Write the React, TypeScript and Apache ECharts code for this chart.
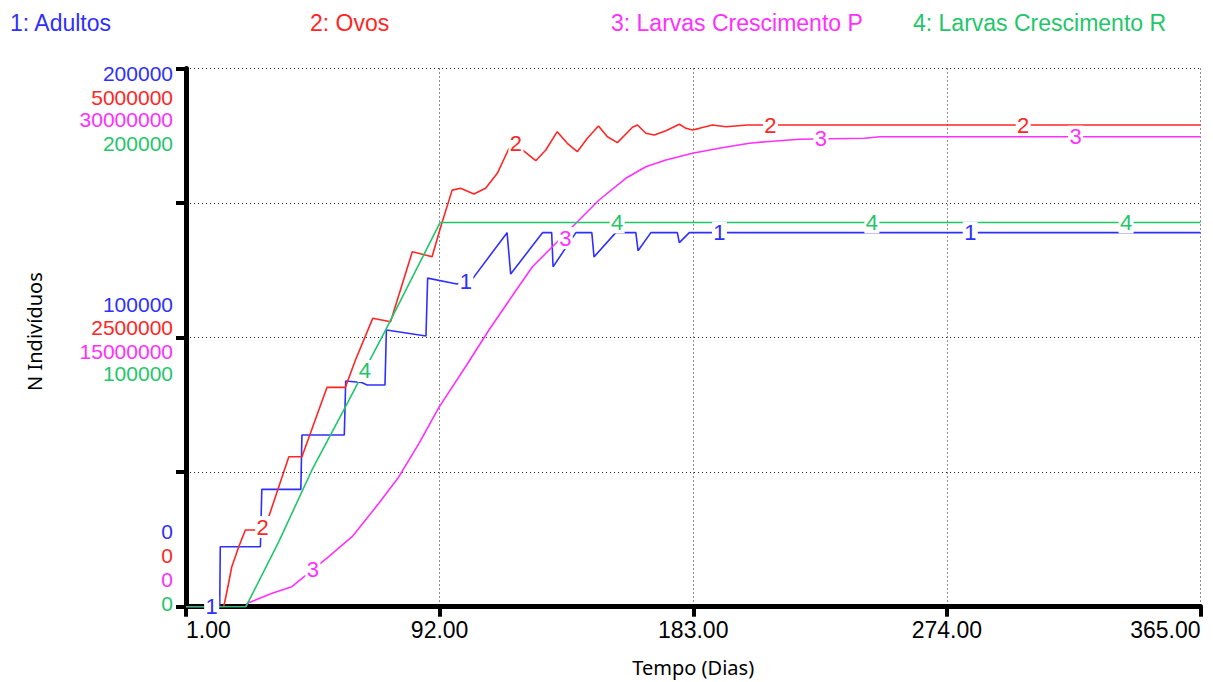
import React, { useEffect, useRef } from 'react';
import * as echarts from 'echarts';

const seriesNames = ['Adultos', 'Ovos', 'Larvas Crescimento P', 'Larvas Crescimento R'];
const seriesColors = ['#2f2fff', '#ff2626', '#ff30ff', '#1fc66a'];
const axisMax = [200000, 5000000, 30000000, 200000];

// [day, value]
const adultos: number[][] = [
  [1, 0], [13.1, 0], [13.3, 22300], [27.7, 22300], [28.2, 43600], [42.2, 43600], [42.6, 63800],
  [57.8, 63800], [58.3, 83900], [64, 83300], [66, 82400], [72.4, 82400], [72.9, 102800],
  [87.1, 100600], [87.7, 122100], [98.2, 119900], [104, 122100], [116.2, 139000], [117.5, 123600],
  [128.9, 139000], [132.2, 139000], [132.7, 126300], [140.9, 139000], [146.6, 139000],
  [147.4, 130000], [155.2, 139000], [162.4, 139000], [163.2, 132300], [167.8, 139000],
  [177.3, 139000], [178, 135300], [181.6, 139000], [365, 139000],
];
const ovos: number[][] = [
  [1, 0], [14.5, 0], [14.9, 43700], [16.3, 220000], [17.4, 369000], [19.9, 555000], [22.3, 713000],
  [25.9, 713000], [30.7, 836000], [37.9, 1393000], [42.6, 1393000], [51.6, 2038000], [58.2, 2038000],
  [61.8, 2292000], [68, 2679000], [74.4, 2648000], [82.2, 3298000], [89.3, 3252000], [92.4, 3530000],
  [96.5, 3870000], [99.5, 3887000], [104.3, 3834000], [108.5, 3887000], [112.7, 4026000],
  [116.9, 4259000], [121.7, 4243000], [126.5, 4143000], [130.1, 4243000], [134.2, 4413000],
  [137.8, 4305000], [141.4, 4227000], [145, 4352000], [149, 4466000], [152.2, 4366000],
  [155.8, 4311000], [161.2, 4454000], [163, 4475000], [166, 4398000], [169, 4382000],
  [173.2, 4422000], [178, 4482000], [180.4, 4444000], [182.7, 4429000], [185.2, 4444000],
  [189.9, 4475000], [194.7, 4459000], [202.5, 4475000], [365, 4475000],
];
const larvasP: number[][] = [
  [1, 0], [22.5, 0], [23, 190000], [31.9, 747000], [39, 1115000], [52.2, 2787000], [60.6, 3902000],
  [70.2, 5764000], [77.4, 7246000], [84.6, 9108000], [91.7, 11100000], [101.3, 13378000],
  [109.7, 15424000], [118.7, 17469000], [125.3, 18952000], [131.9, 19978000], [140.9, 21371000],
  [149.2, 22670000], [158.8, 23879000], [166, 24526000], [173.2, 24900000], [182.7, 25273000],
  [192.3, 25552000], [203.1, 25830000], [209.1, 25920000], [221.1, 26053000], [244.4, 26109000],
  [250, 26198000], [365, 26198000],
];
const larvasR: number[][] = [
  [1, 0], [22.5, 0], [34.3, 24200], [46.2, 50800], [58.2, 74300], [72.6, 102800], [92.2, 142800],
  [365, 142800],
];

// numbered markers along each line [day, value]
const adultosMarks: number[][] = [[10.2, 0], [101.4, 121000], [192.4, 139000], [282.4, 139000]];
const ovosMarks: number[][] = [[28.5, 740000], [119.4, 4300000], [210.7, 4475000], [301.4, 4475000]];
const larvasPMarks: number[][] = [[46.5, 2050000], [137.1, 20550000], [228.8, 26100000], [320.2, 26198000]];
const larvasRMarks: number[][] = [[65.2, 87600], [155.7, 142800], [247.1, 142800], [338.3, 142800]];

const seriesData = [adultos, ovos, larvasP, larvasR];
const seriesMarks = [adultosMarks, ovosMarks, larvasPMarks, larvasRMarks];

const xTickDays = [1, 92, 183, 274, 365];

// layout of the stacked colored axis labels (px offsets from tick)
const topOffsets = [4.6, 28.8, 51.3, 75.3];
const midOffsets = [-33.4, -10, 14, 36];
const botOffsets = [-75, -51.7, -27.7, -3.4];
const legendLeft = [5, 305, 606, 908];

const FONT = 'Liberation Sans, Arial, sans-serif';
const TITLE_FONT = 'Noto Sans, Open Sans, sans-serif';

const pad = (d: number) => (d >= 0 ? [2 * d, 0, 0, 0] : [0, 0, -2 * d, 0]);

export default function App() {
  const ref = useRef<HTMLDivElement>(null);
  useEffect(() => {
    if (!ref.current) return;
    const chart = echarts.init(ref.current, null, { renderer: 'svg' });
    const dayStep = xTickDays[1] - xTickDays[0];
    const dayStart = xTickDays[0];

    const yAxes = axisMax.map((max, i) => {
      const main = i === 0;
      const color = seriesColors[i];
      const base = { color, fontSize: 21, fontFamily: FONT, lineHeight: 21 };
      return {
        type: 'value',
        position: 'left',
        min: 0,
        max,
        interval: max / 4,
        name: main ? 'N Indivíduos' : '',
        nameLocation: 'middle',
        nameGap: 142,
        nameRotate: 90,
        nameTextStyle: { fontFamily: TITLE_FONT, fontSize: 20, color: '#000', padding: [0, 0, 0, 12] },
        axisLine: { show: main, lineStyle: { color: '#000', width: 5 } },
        axisTick: { show: main, length: 10, lineStyle: { color: '#000', width: 4 } },
        splitLine: {
          show: main,
          lineStyle: { color: '#222', width: 1, type: [1, 3] },
        },
        axisLabel: {
          margin: 13,
          formatter: (v: number) => {
            if (v === 0) return '{bot|0}';
            if (v === max) return `{top|${max}}`;
            if (v === max / 2) return `{mid|${v}}`;
            return '';
          },
          rich: {
            top: { ...base, padding: pad(topOffsets[i]) },
            mid: { ...base, padding: pad(midOffsets[i]) },
            bot: { ...base, padding: pad(botOffsets[i]) },
          },
        },
      };
    });

    const series = seriesNames.map((name, i) => ({
      name,
      type: 'line',
      yAxisIndex: i,
      showSymbol: false,
      symbol: 'none',
      lineStyle: { color: seriesColors[i], width: 1.6 },
      itemStyle: { color: seriesColors[i] },
      data: seriesData[i].map(([d, v]) => [d - dayStart, v]),
      markPoint: {
        symbol: 'rect',
        symbolSize: [15, 22],
        itemStyle: { color: '#ffffff' },
        label: {
          show: true,
          position: 'inside',
          formatter: String(i + 1),
          color: seriesColors[i],
          fontSize: 22,
          fontFamily: FONT,
        },
        data: seriesMarks[i].map(([d, v]) => ({ coord: [d - dayStart, v] })),
      },
    }));

    chart.setOption({
      animation: false,
      backgroundColor: '#ffffff',
      tooltip: { show: false },
      legend: seriesNames.map((name, i) => ({
        data: [{ name, textStyle: { color: seriesColors[i] } }],
        left: legendLeft[i],
        top: 11,
        padding: 0,
        icon: 'rect',
        itemWidth: 0,
        itemHeight: 0,
        selectedMode: false,
        formatter: (n: string) => `${i + 1}: ${n}`,
        textStyle: { fontSize: 23, fontFamily: FONT, color: seriesColors[i] },
      })),
      grid: {
        left: 186,
        right: 12.5,
        top: 68.5,
        bottom: 75.3,
        containLabel: false,
        outerBoundsMode: 'none',
      },
      xAxis: {
        type: 'value',
        min: 0,
        max: xTickDays[xTickDays.length - 1] - dayStart,
        interval: dayStep,
        name: 'Tempo (Dias)',
        nameLocation: 'middle',
        nameGap: 51,
        nameTextStyle: { fontFamily: TITLE_FONT, fontSize: 20, color: '#000' },
        axisLine: { lineStyle: { color: '#000', width: 5 } },
        axisTick: { length: 10, lineStyle: { color: '#000', width: 4 } },
        splitLine: { show: true, lineStyle: { color: '#222', width: 1, type: [1, 3] } },
        axisLabel: {
          margin: 12,
          color: '#000',
          fontSize: 23,
          fontFamily: FONT,
          alignMinLabel: 'left',
          alignMaxLabel: 'right',
          formatter: (v: number) => (v + dayStart).toFixed(2),
        },
      },
      yAxis: yAxes,
      series,
    });
    return () => chart.dispose();
  }, []);
  return (
    <div
      ref={ref}
      style={{ position: 'absolute', left: 0, top: 0, width: 1213, height: 682, background: '#fff' }}
    />
  );
}
